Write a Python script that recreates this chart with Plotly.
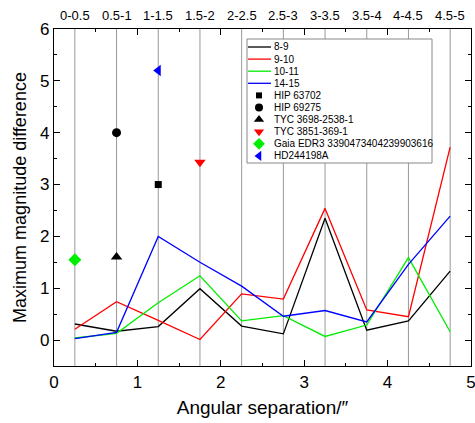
import plotly.graph_objects as go

# ---- data ----
sep_bins = ["0-0.5", "0.5-1", "1-1.5", "1.5-2", "2-2.5", "2.5-3", "3-3.5", "3.5-4", "4-4.5", "4.5-5"]
sep_mid = [0.25, 0.75, 1.25, 1.75, 2.25, 2.75, 3.25, 3.75, 4.25, 4.75]

mag_8_9 = [0.31, 0.17, 0.26, 0.99, 0.27, 0.12, 2.35, 0.19, 0.37, 1.33]
mag_9_10 = [0.21, 0.74, 0.38, 0.01, 0.89, 0.79, 2.54, 0.58, 0.45, 3.72]
mag_10_11 = [0.04, 0.13, 0.72, 1.24, 0.37, 0.47, 0.07, 0.29, 1.59, 0.16]
mag_14_15 = [0.03, 0.15, 2.00, 1.50, 1.04, 0.46, 0.57, 0.35, 1.46, 2.39]

series_names = ["8-9", "9-10", "10-11", "14-15"]
series_values = [mag_8_9, mag_9_10, mag_10_11, mag_14_15]
series_colors = ["#000000", "#ff0000", "#00ee00", "#0000ff"]

star_names = ["HIP 63702", "HIP 69275", "TYC 3698-2538-1", "TYC 3851-369-1",
              "Gaia EDR3 3390473404239903616", "HD244198A"]
star_sep = [1.25, 0.75, 0.75, 1.75, 0.25, 1.25]
star_mag = [3.00, 4.00, 1.60, 3.43, 1.55, 5.20]
star_symbols = ["square", "circle", "triangle-up", "triangle-down", "diamond", "triangle-left"]
star_colors = ["#000000", "#000000", "#000000", "#ff0000", "#00ee00", "#0000ff"]
star_sizes = [7, 9, 10, 10, 10, 10]

FONT = "Liberation Sans, Arial, sans-serif"
X_RANGE = [0, 5]
Y_RANGE = [-0.5, 6]

fig = go.Figure()

# vertical bin-centre gridlines and top bin labels
for xm, lab in zip(sep_mid, sep_bins):
    fig.add_shape(type="line", xref="x", yref="paper", x0=xm, x1=xm, y0=0, y1=1,
                  line=dict(color="#999999", width=1), layer="below")
    fig.add_annotation(x=xm, y=1, xref="x", yref="paper", yanchor="bottom", text=lab,
                       showarrow=False, yshift=4, font=dict(family=FONT, size=13, color="black"))

# series lines
for name, vals, col in zip(series_names, series_values, series_colors):
    fig.add_trace(go.Scatter(x=sep_mid, y=vals, mode="lines", name=name,
                             line=dict(color=col, width=1.3), showlegend=False))

# special stars
for name, sx, sy, sym, col, sz in zip(star_names, star_sep, star_mag, star_symbols, star_colors, star_sizes):
    fig.add_trace(go.Scatter(x=[sx], y=[sy], mode="markers", name=name,
                             marker=dict(symbol=sym, color=col, size=sz, line=dict(width=0)),
                             showlegend=False))

# ---- custom legend, positioned in plot-area pixels ----
plot_w, plot_h = 417, 337
row0, row_step = 18, 12.1
line_x0, line_x1, mark_x, text_x = 194, 217, 205, 219
box = dict(x0=193, x1=378, y0=10, y1=134)

def px(x):
    return x / plot_w

def py(y):
    return 1 - y / plot_h

def px_data(x):
    return X_RANGE[0] + (X_RANGE[1] - X_RANGE[0]) * x / plot_w

def py_data(y):
    return Y_RANGE[1] - (Y_RANGE[1] - Y_RANGE[0]) * y / plot_h

legend_items = ([(n, "line", c, None, None) for n, c in zip(series_names, series_colors)] +
                [(n, "marker", c, s, z) for n, c, s, z in zip(star_names, star_colors, star_symbols, star_sizes)])

fig.add_shape(type="rect", xref="paper", yref="paper", x0=px(box["x0"]), x1=px(box["x1"]),
              y0=py(box["y0"]), y1=py(box["y1"]), line=dict(color="#888888", width=1),
              fillcolor="white", layer="below")

for i, (name, kind, col, sym, sz) in enumerate(legend_items):
    yy = row0 + i * row_step
    if kind == "line":
        fig.add_shape(type="line", xref="paper", yref="paper", x0=px(line_x0), x1=px(line_x1),
                      y0=py(yy), y1=py(yy), line=dict(color=col, width=1.3))
    else:
        fig.add_trace(go.Scatter(x=[px_data(mark_x)], y=[py_data(yy)], mode="markers",
                                 marker=dict(symbol=sym, color=col, size=max(sz - 1, 6), line=dict(width=0)),
                                 showlegend=False, hoverinfo="skip"))
    fig.add_annotation(x=px(text_x), y=py(yy), xref="paper", yref="paper", text=name, showarrow=False,
                       xanchor="left", yanchor="middle", font=dict(family=FONT, size=10, color="black"),
                       borderpad=0)

axis_common = dict(showline=True, linecolor="black", linewidth=1.3, zeroline=False,
                   ticks="inside", ticklen=6, tickwidth=1.3, tickcolor="black",
                   mirror="ticks", showgrid=False, automargin=False, ticklabeloverflow="allow")

fig.update_layout(
    width=475, height=423,
    margin=dict(l=54, r=4, t=29, b=57),
    paper_bgcolor="white", plot_bgcolor="white",
    font=dict(family=FONT, color="black"),
    showlegend=False,
    xaxis=dict(range=X_RANGE, tickvals=[0, 1, 2, 3, 4, 5],
               minor=dict(tickvals=[0.5, 1.5, 2.5, 3.5, 4.5], ticks="inside", ticklen=3,
                          tickcolor="black", showgrid=False),
               tickfont=dict(size=17),
               title=dict(text="Angular separation/″", font=dict(size=19), standoff=10),
               **axis_common),
    yaxis=dict(range=Y_RANGE, tickvals=[0, 1, 2, 3, 4, 5, 6],
               minor=dict(tickvals=[-0.5, 0.5, 1.5, 2.5, 3.5, 4.5, 5.5], ticks="inside", ticklen=3,
                          tickcolor="black", showgrid=False),
               tickfont=dict(size=17),
               title=dict(text="Maximum magnitude difference", font=dict(size=18), standoff=8),
               **axis_common),
)

fig.write_html("out.html")
